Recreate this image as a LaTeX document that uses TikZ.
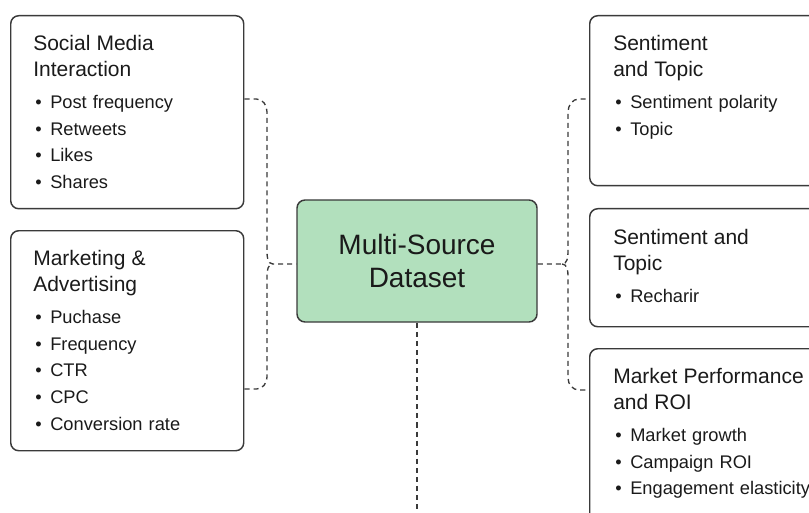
\documentclass[tikz,border=0pt]{standalone}
\usepackage{fontspec}
\setmainfont{Liberation Sans}
\usetikzlibrary{positioning}
\definecolor{ink}{HTML}{1A1A1A}
\definecolor{edge}{HTML}{3A3A3A}
\definecolor{mint}{HTML}{B2E0BD}
\setlength{\parindent}{0pt}
\newcommand{\ttl}{\fontsize{15.75}{19.5}\selectfont}
\newcommand{\itm}[1]{\hspace*{1.5pt}\makebox[11.25pt][l]{\textbullet}#1}

\begin{document}
\begin{tikzpicture}[x=0.75pt, y=-0.75pt,
    card/.style={draw=edge, line width=1.1pt, rounded corners=6pt, anchor=north west,
                 minimum width=174.75pt, inner sep=0pt},
    body/.style={anchor=north west, inner sep=0pt, text width=165pt, align=left,
                 text=ink, font=\fontsize{13.7}{20}\selectfont},
    hubbox/.style={draw=edge, fill=mint, line width=1.1pt, rounded corners=6pt,
                 minimum width=180pt, minimum height=91.5pt, align=center, text=ink,
                 font=\fontsize{21}{24.75}\selectfont},
    link/.style={draw=edge, line width=1pt, dash pattern=on 3.8pt off 3pt}
]
\useasboundingbox (0,0) rectangle (809,513);
\clip (0,0) rectangle (809,513);

% sources
\node[card, minimum height=144.75pt] (social) at (10,15) {};
\node[body] (socialtxt) at ([shift={(23,20)}]social.north west)
  {{\ttl Social Media\\Interaction\par}\vspace{4pt}
   \itm{Post frequency}\\\itm{Retweets}\\\itm{Likes}\\\itm{Shares}};
\node[card, minimum height=165pt] (market) at (10,230) {};
\node[body] (markettxt) at ([shift={(23,20)}]market.north west)
  {{\ttl Marketing \&\\Advertising\par}\vspace{4pt}
   \itm{Puchase}\\\itm{Frequency}\\\itm{CTR}\\\itm{CPC}\\\itm{Conversion rate}};

% outputs
\node[card, minimum width=180pt, minimum height=127.5pt] (senti) at (589,15) {};
\node[body] (sentitxt) at ([shift={(24,20)}]senti.north west)
  {{\ttl Sentiment\\and Topic\par}\vspace{4pt}
   \itm{Sentiment polarity}\\\itm{Topic}};
\node[card, minimum width=180pt, minimum height=88.5pt] (sentitwo) at (589,208) {};
\node[body] (sentitwotxt) at ([shift={(24,21)}]sentitwo.north west)
  {{\ttl Sentiment and\\Topic\par}\vspace{4pt}
   \itm{Recharir}};
\node[card, minimum width=180pt, minimum height=150pt] (perf) at (589,348) {};
\node[body] (perftxt) at ([shift={(24,20)}]perf.north west)
  {{\ttl Market Performance\\and ROI\par}\vspace{4pt}
   \itm{Market growth}\\\itm{Campaign ROI}\\\itm{Engagement elasticity}};

% hub
\node[hubbox] (hub) at (417,261) {Multi-Source\\Dataset};

\coordinate (smport) at (social.east |- 0,99);
\coordinate (maport) at (market.east |- 0,389);
\coordinate (stport) at (senti.west |- 0,99);
\coordinate (pfport) at (perf.west |- 0,390);
\coordinate (lj) at (273,264);
\coordinate (rj) at (562,264);
\coordinate (tail) at (hub.south |- 0,520);

\draw[link] (smport) -- ++(12,0) to[out=0,in=90] (267,112) -- (267,252)
  to[out=-90,in=180] (lj) -- (lj -| hub.west);
\draw[link] (maport) -- ++(12,0) to[out=0,in=-90] (267,377) -- (267,276)
  to[out=90,in=180] (lj);
\draw[link] (rj -| hub.east) -- (rj) to[out=0,in=-90] (568,252) -- (568,112)
  to[out=90,in=180] (579,99) -- (stport);
\draw[link] (rj) to[out=0,in=90] (568,276) -- (568,378)
  to[out=-90,in=180] (579,390) -- (pfport);
\draw[link] (hub.south) -- (tail);
\end{tikzpicture}
\end{document}
